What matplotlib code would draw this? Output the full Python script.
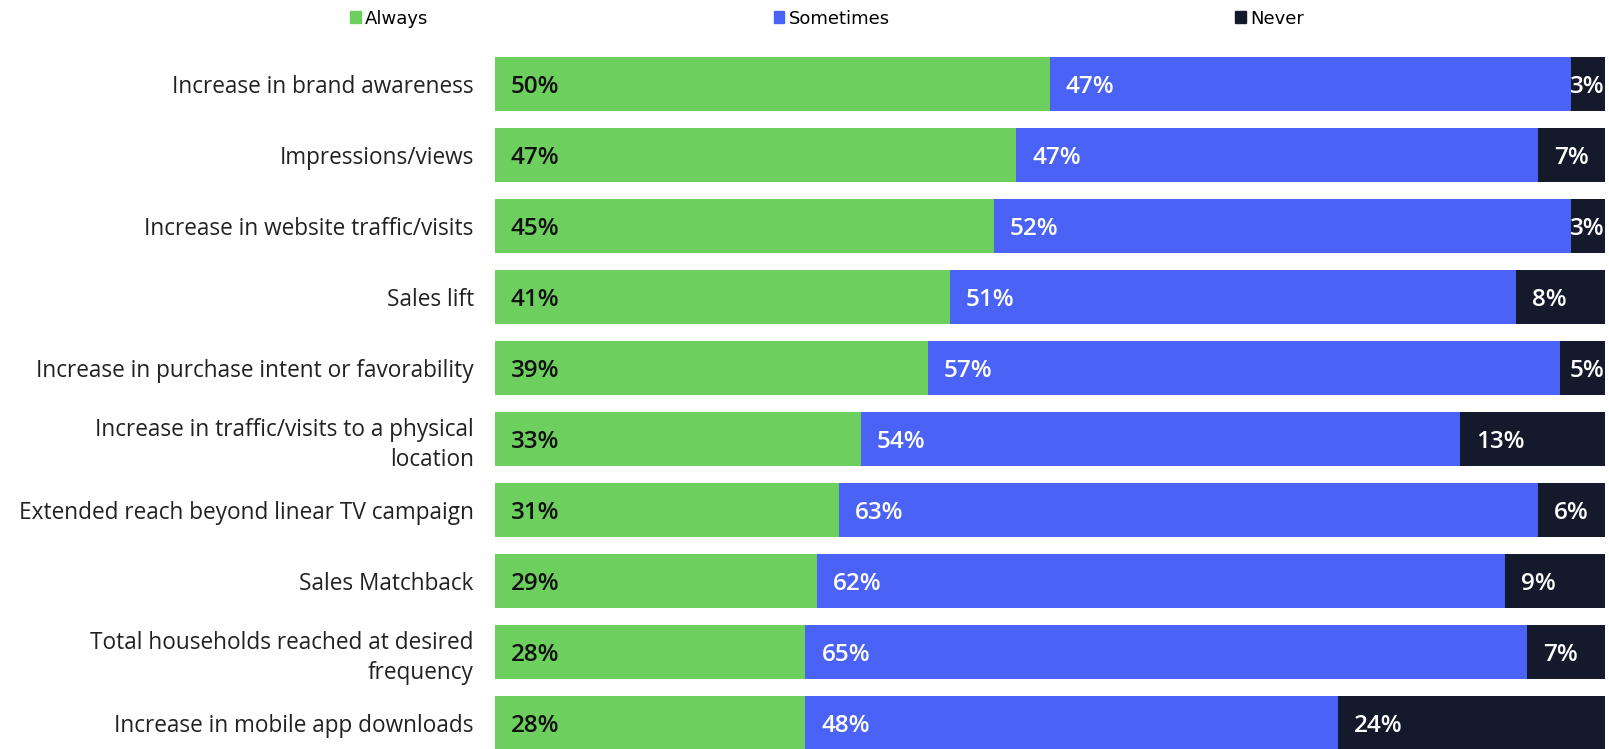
import matplotlib
matplotlib.use("Agg")
import matplotlib.pyplot as plt
from matplotlib.patches import Patch
import numpy as np

categories = [
    "Increase in brand awareness",
    "Impressions/views",
    "Increase in website traffic/visits",
    "Sales lift",
    "Increase in purchase intent or favorability",
    "Increase in traffic/visits to a physical\nlocation",
    "Extended reach beyond linear TV campaign",
    "Sales Matchback",
    "Total households reached at desired\nfrequency",
    "Increase in mobile app downloads",
]
always = [50, 47, 45, 41, 39, 33, 31, 29, 28, 28]
sometimes = [47, 47, 52, 51, 57, 54, 63, 62, 65, 48]
never = [3, 7, 3, 8, 5, 13, 6, 9, 7, 24]

series_names = ["Always", "Sometimes", "Never"]
colors = ["#6dcf5d", "#4a62f6", "#141a2b"]
label_colors = ["#111111", "white", "white"]

W, H = 1609, 749
fig = plt.figure(figsize=(W / 100, H / 100), dpi=100)
left_px, right_px = 494.6, 1604.6
ax = fig.add_axes([left_px / W, 0, (right_px - left_px) / W, 1])

y = np.arange(len(categories))
row_px = 71.02
first_px = 84.2
ax.set_ylim((H - first_px) / row_px, -first_px / row_px)
ax.set_xlim(0, 100)

px_per_unit = (right_px - left_px) / 100.0
pad_px = 16

renderer = fig.canvas.get_renderer()
lefts = np.zeros(len(categories))
for name, vals, col, lcol in zip(series_names, [always, sometimes, never], colors, label_colors):
    vals = np.array(vals, dtype=float)
    ax.barh(y, vals, left=lefts, height=0.76, color=col, label=name, linewidth=0)
    for yi, l, v in zip(y, lefts, vals):
        x0 = l + pad_px / px_per_unit
        t = ax.text(x0, yi + 0.035, f"{int(v)}%", ha="left", va="center", fontsize=17.5,
                    fontweight="semibold", color=lcol, family="Open Sans")
        # keep labels of narrow end segments inside the plot
        w = t.get_window_extent(renderer).width / px_per_unit
        if x0 + w > 100:
            t.set_x(100)
            t.set_horizontalalignment("right")
    lefts = lefts + vals

ax.set_yticks(y)
ax.set_yticklabels(categories, fontsize=16.3, family="Open Sans", color="#222222",
                   linespacing=1.32)
for t in ax.get_yticklabels():
    t.set_horizontalalignment("right")
ax.tick_params(axis="y", length=0, pad=15)
ax.tick_params(axis="x", length=0, labelbottom=False)
for s in ax.spines.values():
    s.set_visible(False)

handles = [Patch(color=c, label=n) for c, n in zip(colors, series_names)]
fig.legend(handles=handles, loc="center left", bbox_to_anchor=(350 / W, 1 - 18.5 / H),
           ncol=3, frameon=False, fontsize=13, handlelength=0.6, handleheight=0.6,
           handletextpad=0.25, columnspacing=19.1, borderaxespad=0, borderpad=0)

fig.savefig("out.png", dpi=100)
